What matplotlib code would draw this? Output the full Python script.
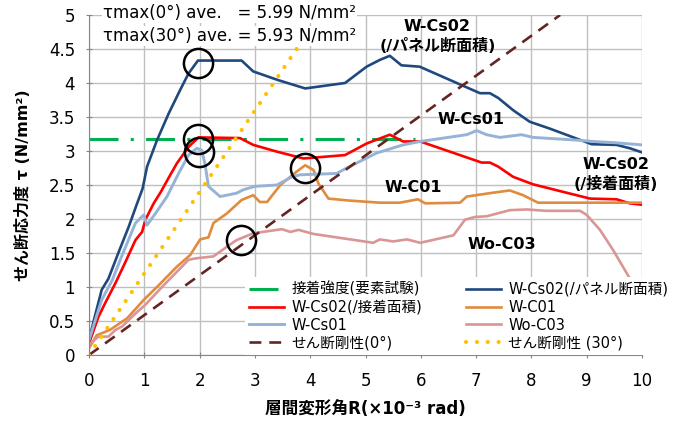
import matplotlib
matplotlib.use('Agg')
import matplotlib.pyplot as plt

plt.rcParams['font.family'] = ['DejaVu Sans', 'Noto Sans CJK JP']

# 接着強度 (要素試験)
bond_x = [0, 5.9]
bond_y = [3.17, 3.17]

# W-Cs02 (/パネル断面積)
panel_x = [0, 0.1, 0.23, 0.35, 0.53, 0.72, 0.87, 0.93, 0.97, 1.05, 1.23, 1.44, 1.65, 1.80, 1.97,
           2.76, 2.97, 3.43, 3.91, 4.63, 5.02, 5.26, 5.44, 5.65, 5.98, 7.07, 7.25, 7.40, 7.67,
           7.97, 8.33, 9.09, 9.54, 9.78, 10.0]
panel_y = [0.22, 0.55, 0.96, 1.12, 1.50, 1.89, 2.23, 2.36, 2.45, 2.77, 3.16, 3.55, 3.90, 4.14, 4.33,
           4.33, 4.17, 4.04, 3.92, 4.00, 4.24, 4.34, 4.40, 4.26, 4.24, 3.85, 3.85, 3.78, 3.60,
           3.43, 3.33, 3.10, 3.09, 3.04, 2.98]

# W-Cs02 (/接着面積)
bondarea_x = [0, 0.17, 0.29, 0.48, 0.66, 0.84, 0.96, 1.02, 1.17, 1.30, 1.45, 1.59, 1.80, 1.98, 2.73,
              2.97, 3.40, 3.88, 4.63, 5.02, 5.44, 5.68, 5.99, 7.10, 7.25, 7.40, 7.67, 8.03, 9.06,
              9.54, 9.78, 10.0]
bondarea_y = [0.17, 0.56, 0.76, 1.06, 1.37, 1.69, 1.81, 1.99, 2.23, 2.40, 2.62, 2.82, 3.06, 3.20, 3.19,
              3.09, 2.99, 2.89, 2.94, 3.11, 3.24, 3.14, 3.14, 2.83, 2.83, 2.77, 2.62, 2.51, 2.30,
              2.29, 2.23, 2.21]

# W-Cs01
cs01_x = [0, 0.23, 0.42, 0.60, 0.84, 0.99, 1.05, 1.20, 1.41, 1.62, 1.80, 1.95, 2.04, 2.10, 2.16,
          2.37, 2.67, 2.79, 3.00, 3.40, 3.67, 3.82, 4.48, 4.66, 5.20, 5.68, 5.99, 6.83, 7.01,
          7.19, 7.43, 7.82, 8.03, 8.82, 9.12, 9.54, 10.0]
cs01_y = [0.22, 0.81, 1.10, 1.47, 1.94, 2.06, 1.91, 2.08, 2.33, 2.67, 2.94, 3.04, 3.01, 2.80, 2.48,
          2.33, 2.38, 2.43, 2.48, 2.50, 2.62, 2.65, 2.67, 2.75, 2.97, 3.09, 3.14, 3.24, 3.30,
          3.24, 3.20, 3.24, 3.20, 3.16, 3.14, 3.12, 3.09]

# W-C01
c01_x = [0, 0.14, 0.38, 0.69, 0.99, 1.29, 1.59, 1.83, 2.01, 2.16, 2.25, 2.49, 2.76, 2.97, 3.09,
         3.22, 3.46, 3.76, 3.91, 4.06, 4.15, 4.33, 4.72, 5.26, 5.62, 5.95, 6.08, 6.71, 6.83,
         7.25, 7.61, 7.85, 8.12, 10.0]
c01_y = [0.10, 0.29, 0.37, 0.54, 0.81, 1.05, 1.30, 1.47, 1.70, 1.73, 1.94, 2.08, 2.28, 2.35, 2.25,
         2.25, 2.50, 2.70, 2.79, 2.72, 2.52, 2.30, 2.27, 2.24, 2.24, 2.29, 2.23, 2.24, 2.33,
         2.38, 2.42, 2.35, 2.24, 2.24]

# Wo-C03
c03_x = [0, 0.17, 0.35, 0.48, 0.60, 0.84, 1.02, 1.32, 1.56, 1.80, 1.92, 2.25, 2.49, 2.67, 2.97,
         3.49, 3.64, 3.79, 4.06, 5.14, 5.26, 5.50, 5.75, 5.99, 6.59, 6.80, 6.98, 7.19, 7.61,
         7.91, 8.27, 8.88, 9.00, 9.24, 9.48, 9.82]
c03_y = [0.15, 0.27, 0.27, 0.37, 0.42, 0.61, 0.74, 1.00, 1.20, 1.40, 1.42, 1.45, 1.59, 1.69, 1.79,
         1.85, 1.81, 1.84, 1.78, 1.65, 1.70, 1.67, 1.70, 1.65, 1.76, 1.99, 2.03, 2.04, 2.13,
         2.14, 2.12, 2.12, 2.06, 1.84, 1.54, 1.07]

# せん断剛性
stiff0_x = [0, 8.52]
stiff0_y = [0, 5.0]
stiff30_x = [0, 3.78]
stiff30_y = [0, 4.53]

# 丸印
circle_x = [1.975, 1.975, 1.99, 3.91, 2.75]
circle_y = [4.30, 3.18, 2.99, 2.75, 1.69]

fig = plt.figure(figsize=(6.78, 4.25), dpi=100)
ax = fig.add_axes([89 / 678, 1 - 355 / 425, 553 / 678, 340 / 425])

l_bond, = ax.plot(bond_x, bond_y, color='#00B050', lw=2.2, dashes=(9.5, 4, 1, 4),
                  label='接着強度(要素試験)')
l_panel, = ax.plot(panel_x, panel_y, color='#1F497D', lw=1.9, label='W-Cs02(/パネル断面積)')
l_barea, = ax.plot(bondarea_x, bondarea_y, color='#FF0000', lw=1.9, label='W-Cs02(/接着面積)')
l_c01, = ax.plot(c01_x, c01_y, color='#E08B3E', lw=1.9, label='W-C01')
l_cs01, = ax.plot(cs01_x, cs01_y, color='#95B3D7', lw=2.1, label='W-Cs01')
l_c03, = ax.plot(c03_x, c03_y, color='#D99694', lw=1.9, label='Wo-C03')
l_s0, = ax.plot(stiff0_x, stiff0_y, color='#632523', lw=1.9, dashes=(4.5, 3),
                label='せん断剛性(0°)')
l_s30, = ax.plot(stiff30_x, stiff30_y, color='#FFC000', lw=3.0, dashes=(0.01, 2.6),
                 dash_capstyle='round', label='せん断剛性 (30°)')
ax.plot(circle_x, circle_y, 'o', ms=21, mfc='none', mec='black', mew=1.8, zorder=5)

ax.set_xlim(0, 10)
ax.set_ylim(0, 5)
ax.set_xticks(range(0, 11))
ax.set_yticks([0, 0.5, 1, 1.5, 2, 2.5, 3, 3.5, 4, 4.5, 5])
ax.set_yticklabels(['0', '0.5', '1', '1.5', '2', '2.5', '3', '3.5', '4', '4.5', '5'])
ax.grid(True, color='#BFBFBF', lw=1)
ax.set_axisbelow(True)
for s in ['top', 'right']:
    ax.spines[s].set_visible(False)
for s in ['left', 'bottom']:
    ax.spines[s].set_color('#868686')
ax.tick_params(axis='both', labelsize=12, color='#868686', length=4, direction='inout')
ax.tick_params(axis='x', pad=10)
ax.tick_params(axis='y', pad=8)

# ラベル
bold = dict(fontsize=11.5, fontweight='bold', ha='center', va='center')
ax.text(6.3, 4.68, 'W-Cs02\n(/パネル断面積)', linespacing=1.3, **bold)
ax.text(6.9, 3.47, 'W-Cs01', **bold)
ax.text(5.86, 2.46, 'W-C01', **bold)
ax.text(9.53, 2.65, 'W-Cs02\n(/接着面積)', linespacing=1.3, **bold)
ax.text(7.47, 1.63, 'Wo-C03', **bold)

box = dict(facecolor='white', edgecolor='none', pad=1)
fig.text(103 / 678, 1 - 13 / 425, 'τmax(0°) ave.   = 5.99 N/mm²', fontsize=12,
         ha='left', va='center', bbox=box)
fig.text(103 / 678, 1 - 36 / 425, 'τmax(30°) ave. = 5.93 N/mm²', fontsize=12,
         ha='left', va='center', bbox=box)

fig.text(23 / 678, 1 - 185 / 425, 'せん断応力度 τ (N/mm²)', rotation=90, fontsize=11.5,
         fontweight='bold', ha='center', va='center')
fig.text(365 / 678, 1 - 409 / 425, '層間変形角R(×10⁻³ rad)', fontsize=12,
         fontweight='bold', ha='center', va='center')

handles = [l_bond, l_barea, l_cs01, l_s0, l_panel, l_c01, l_c03, l_s30]
leg = fig.legend(handles=handles, labels=[h.get_label() for h in handles], ncol=2,
                 loc='upper left', bbox_to_anchor=(245 / 678, 1 - 277 / 425),
                 fontsize=10.5, frameon=True, fancybox=False, edgecolor='none',
                 facecolor='white', framealpha=1, handlelength=2.4, handletextpad=0.5,
                 columnspacing=3.0, labelspacing=0.2, borderpad=0.3, borderaxespad=0)
leg.set_zorder(10)

fig.savefig('out.png', dpi=100)
